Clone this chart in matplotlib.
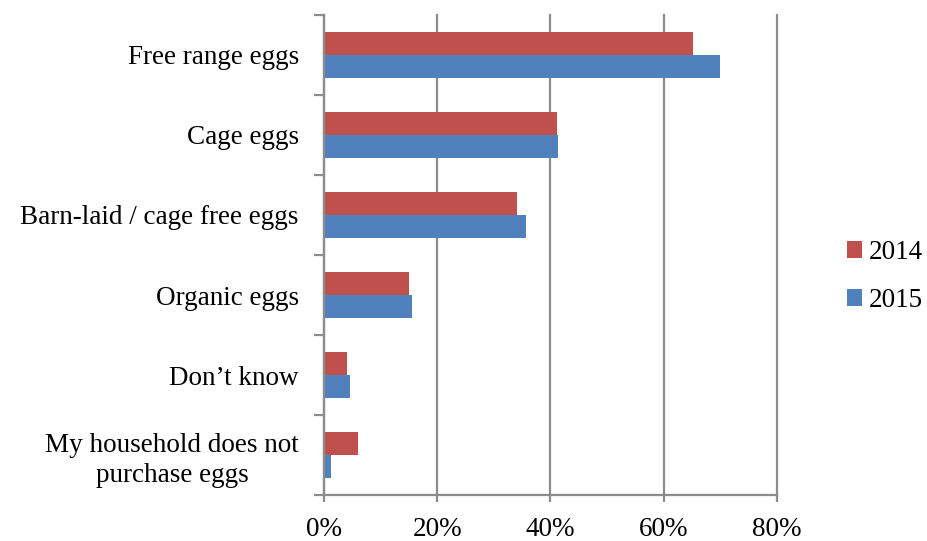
import matplotlib.pyplot as plt
import numpy as np
from matplotlib.ticker import FuncFormatter

categories = [
    "Free range eggs",
    "Cage eggs",
    "Barn-laid / cage free eggs",
    "Organic eggs",
    "Don\u2019t know",
    "My household does not\npurchase eggs",
]
values_2014 = [65.1, 41.1, 34.1, 15.1, 4.0, 6.1]
values_2015 = [70.0, 41.3, 35.6, 15.5, 4.7, 1.2]
series_labels = ["2014", "2015"]

red = "#C0504D"
blue = "#4F81BD"
grey = "#8C8C8C"
fs = 19.5

plt.rcParams["font.family"] = ["Liberation Serif", "DejaVu Serif"]

fig = plt.figure(figsize=(9.28, 5.41), dpi=100)
ax = fig.add_axes([0.349, 0.085, 0.4884, 0.8873])

y = np.arange(len(categories))
h = 0.2875
ax.barh(y - h / 2, values_2014, height=h, color=red, label=series_labels[0])
ax.barh(y + h / 2, values_2015, height=h, color=blue, label=series_labels[1])

ax.set_ylim(len(categories) - 0.5, -0.5)
ax.set_xlim(0, 80)
ax.set_xticks([0, 20, 40, 60, 80])
ax.xaxis.set_major_formatter(FuncFormatter(lambda v, p: f"{v:.0f}%"))
ax.grid(axis="x", color=grey, linewidth=1.6)
ax.set_axisbelow(True)
for gl in ax.get_xgridlines():
    gl.set_clip_on(False)

ax.set_yticks(y)
ax.set_yticklabels(categories, ha="right", multialignment="center", linespacing=1.25)
ax.set_yticks(np.arange(len(categories) + 1) - 0.5, minor=True)
ax.tick_params(axis="y", which="major", length=0, pad=18, labelsize=fs)
ax.tick_params(axis="y", which="minor", length=7, width=1.6, color=grey)
ax.tick_params(axis="x", length=5, width=1.6, color=grey, labelsize=fs, pad=11)

for s in ["top", "right"]:
    ax.spines[s].set_visible(False)
for s in ["left", "bottom"]:
    ax.spines[s].set_color(grey)
    ax.spines[s].set_linewidth(1.6)

ax.legend(
    loc="center left",
    bbox_to_anchor=(1.10, 0.455),
    frameon=False,
    fontsize=fs,
    handlelength=0.55,
    handleheight=0.55,
    handletextpad=0.25,
    labelspacing=0.85,
)

fig.savefig("out.png", dpi=100)
